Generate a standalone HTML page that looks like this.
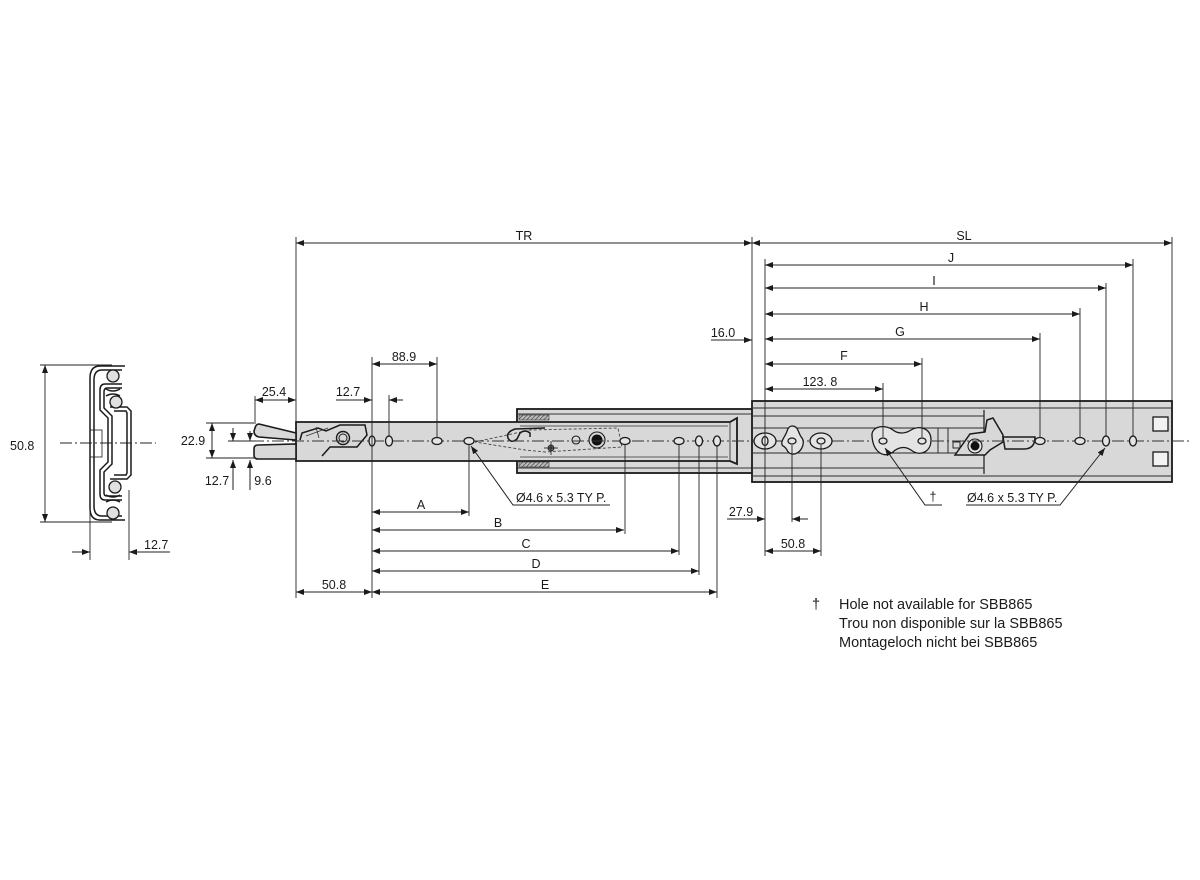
<!DOCTYPE html>
<html><head><meta charset="utf-8"><style>
html,body{margin:0;padding:0;background:#fff;}
svg{display:block;}
text{font-family:"Liberation Sans",sans-serif;fill:#1a1a1a;}
</style></head><body>
<svg width="1200" height="880" viewBox="0 0 1200 880" xmlns="http://www.w3.org/2000/svg">
<defs>
<marker id="ar" viewBox="0 0 8 6" refX="8" refY="3" markerWidth="8" markerHeight="6" orient="auto-start-reverse" markerUnits="userSpaceOnUse"><path d="M0,0 L8,3 L0,6z" fill="#1a1a1a"/></marker>
<pattern id="hat" width="3" height="3" patternUnits="userSpaceOnUse" patternTransform="rotate(45)"><rect width="3" height="3" fill="#bbb"/><line x1="0" y1="0" x2="0" y2="3" stroke="#333" stroke-width="1.2"/></pattern>
</defs>
<rect width="1200" height="880" fill="#fff"/>

<!-- ===== Left profile view ===== -->
<g fill="none" stroke="#1a1a1a" stroke-width="1.5">
  <path d="M125,366 L100,366 Q90,366 90,378 L90,508 Q90,520 100,520 L125,520"/>
  <path d="M122,370 L102,370 Q94,370 94,380 L94,506 Q94,516 102,516 L122,516"/>
  <path d="M122,384 L105,384 Q100,384 100,390 L100,410 L108,418 L108,462 L100,470 L100,494 Q100,500 105,500 L122,500"/>
  <path d="M122,388 L107,388 Q104,388 104,392 L104,408 L112,416 L112,464 L104,472 L104,493 Q104,496 107,496 L122,496"/>
  <path d="M110,407 L127,407 L131,411 L131,475 L127,479 L110,479"/>
  <path d="M114,411 L126,411 L127,413 L127,473 L126,475 L114,475"/>
  <path d="M106,389 Q113,393 120,389 M106,396 Q113,392 120,396"/>
  <path d="M106,495 Q113,499 120,495 M106,502 Q113,498 120,502"/>
  <rect x="90" y="430" width="12" height="27" stroke-width="0.8"/>
</g>
<g fill="#e0e0e0" stroke="#1a1a1a" stroke-width="1.3">
  <circle cx="113" cy="376" r="6"/>
  <circle cx="116" cy="402" r="6"/>
  <circle cx="115" cy="487" r="6"/>
  <circle cx="113" cy="513" r="6"/>
</g>
<g stroke="#222" stroke-width="0.9" fill="none">
  <line x1="40" y1="365" x2="112" y2="365"/>
  <line x1="40" y1="522" x2="112" y2="522"/>
  <line x1="90" y1="508" x2="90" y2="560"/>
  <line x1="129" y1="490" x2="129" y2="560"/>
  <line x1="60" y1="443" x2="156" y2="443" stroke-dasharray="12 3 2 3"/>
  <line x1="45" y1="365" x2="45" y2="522" marker-start="url(#ar)" marker-end="url(#ar)"/>
  <line x1="72" y1="552" x2="90" y2="552" marker-end="url(#ar)"/>
  <line x1="170" y1="552" x2="129" y2="552" marker-end="url(#ar)"/>
</g>
<text x="10" y="450" font-size="12.5">50.8</text>
<text x="144" y="549" font-size="12.5">12.7</text>

<!-- ===== Main slide ===== -->
<rect x="517" y="409" width="236" height="64" fill="#d8d8d8" stroke="#1a1a1a" stroke-width="1.8"/>
<rect x="519" y="415" width="30" height="5" fill="url(#hat)" stroke="#333" stroke-width="0.6"/>
<rect x="519" y="462" width="30" height="5" fill="url(#hat)" stroke="#333" stroke-width="0.6"/>
<line x1="517" y1="414" x2="752" y2="414" stroke="#333" stroke-width="0.9"/>
<line x1="517" y1="468" x2="752" y2="468" stroke="#333" stroke-width="0.9"/>

<rect x="752" y="401" width="420" height="81" fill="#d8d8d8" stroke="#1a1a1a" stroke-width="1.8"/>
<g stroke="#2a2a2a" stroke-width="1" fill="none">
  <line x1="752" y1="408" x2="1172" y2="408"/>
  <line x1="752" y1="476" x2="1172" y2="476"/>
  <line x1="752" y1="416" x2="984" y2="416"/>
  <line x1="752" y1="428" x2="984" y2="428"/>
  <line x1="752" y1="453" x2="984" y2="453"/>
  <line x1="752" y1="468" x2="984" y2="468"/>
  <line x1="984" y1="410" x2="984" y2="474" stroke-width="1.3"/>
  <rect x="1153" y="417" width="15" height="14" stroke="#1a1a1a" stroke-width="1.3" fill="#f2f2f2"/>
  <rect x="1153" y="452" width="15" height="14" stroke="#1a1a1a" stroke-width="1.3" fill="#f2f2f2"/>
  <line x1="938" y1="428" x2="938" y2="453"/>
  <line x1="948" y1="428" x2="948" y2="453"/>
  <rect x="953" y="442" width="7" height="6"/>
</g>

<path d="M296,422 L730,422 L737,418 L737,464 L730,461 L296,461 Z" fill="#d8d8d8" stroke="#1a1a1a" stroke-width="1.8"/>
<line x1="520" y1="426" x2="728" y2="426" stroke="#333" stroke-width="0.8"/>
<line x1="520" y1="457" x2="728" y2="457" stroke="#333" stroke-width="0.8"/>
<line x1="730" y1="422" x2="730" y2="461" stroke="#333" stroke-width="0.9"/>

<path d="M259,424 L296,433 L296,440 L259,437 Q254,436 254,431 L255,428 Q256,424 259,424 Z" fill="#d8d8d8" stroke="#1a1a1a" stroke-width="1.6"/>
<path d="M258,445 L296,444 L296,459 L258,459 Q254,459 254,455 L254,449 Q254,445 258,445 Z" fill="#d8d8d8" stroke="#1a1a1a" stroke-width="1.6"/>

<path d="M300,440 L302,433 L318,428 L326,431 L340,425 L365,425 L367,435 L357,447 L330,447 L322,456" fill="none" stroke="#1a1a1a" stroke-width="1.5"/>
<line x1="306" y1="436" x2="328" y2="428" stroke="#333" stroke-width="0.8"/>
<line x1="316" y1="427" x2="319" y2="438" stroke="#333" stroke-width="0.8"/>
<circle cx="343" cy="438" r="6.5" fill="none" stroke="#1a1a1a" stroke-width="1.4"/>
<circle cx="343" cy="438" r="4" fill="none" stroke="#1a1a1a" stroke-width="1"/>

<path d="M475,442 L530,430 L618,428 L622,447 L545,452 L525,450 Z" fill="none" stroke="#444" stroke-width="0.9" stroke-dasharray="3 2"/>
<path d="M545,428 L515,429 Q506,432 508,438 Q511,444 517,439 L520,433 Q525,429 530,433 L530,437" fill="none" stroke="#1a1a1a" stroke-width="1.5"/>
<circle cx="551" cy="448" r="3" fill="#666" stroke="#1a1a1a" stroke-width="0.8"/>
<line x1="551" y1="441" x2="551" y2="455" stroke="#1a1a1a" stroke-width="0.8"/>
<line x1="544" y1="448" x2="558" y2="448" stroke="#1a1a1a" stroke-width="0.8"/>
<circle cx="576" cy="440" r="4" fill="none" stroke="#1a1a1a" stroke-width="1.1"/>
<circle cx="597" cy="440" r="8" fill="none" stroke="#1a1a1a" stroke-width="1.1"/>
<circle cx="597" cy="440" r="5.5" fill="#111"/>

<path d="M955,455 L970,434 L985,432 L987,420 L993,418 L1003,435 L1003,442 L990,450 L985,455 Z" fill="#d8d8d8" stroke="#1a1a1a" stroke-width="1.5"/>
<circle cx="975" cy="446" r="7" fill="#e6e6e6" stroke="#1a1a1a" stroke-width="1.1"/>
<circle cx="975" cy="446" r="4.5" fill="#111"/>
<path d="M1003,437 L1035,437 Q1035,449 1024,449 L1005,449 Z" fill="#d8d8d8" stroke="#1a1a1a" stroke-width="1.5"/>

<line x1="232" y1="441" x2="1192" y2="441" stroke="#333" stroke-width="0.9" stroke-dasharray="12 3 2 3"/>

<g fill="#e4e4e4" stroke="#1a1a1a" stroke-width="1.3">
  <ellipse cx="372" cy="441" rx="3" ry="5"/>
  <ellipse cx="389" cy="441" rx="3.5" ry="5"/>
  <ellipse cx="437" cy="441" rx="5" ry="3.5"/>
  <ellipse cx="469" cy="441" rx="5" ry="3.5"/>
  <ellipse cx="625" cy="441" rx="5" ry="3.5"/>
  <ellipse cx="679" cy="441" rx="5" ry="3.5"/>
  <ellipse cx="699" cy="441" rx="3.5" ry="5"/>
  <ellipse cx="717" cy="441" rx="3.5" ry="5"/>
  <ellipse cx="765" cy="441" rx="11" ry="8"/>
  <ellipse cx="765" cy="441" rx="3" ry="4.5"/>
  <path d="M792,426 C799,426 798,434 802,438 C806,444 800,455 792,454 C786,453 788,448 783,446 C779,442 786,436 787,431 C788,428 790,426 792,426 Z"/>
  <ellipse cx="792" cy="441" rx="4" ry="3"/>
  <ellipse cx="821" cy="441" rx="11" ry="8"/>
  <ellipse cx="821" cy="441" rx="4" ry="3"/>
  <path d="M872,436 C871,426 885,424 893,430 C898,434 905,434 911,430 C919,425 931,428 931,440 C931,452 920,457 911,450 C905,446 898,447 893,452 C884,459 873,452 872,436 Z"/>
  <ellipse cx="883" cy="441" rx="4" ry="3"/>
  <ellipse cx="922" cy="441" rx="4" ry="3"/>
  <ellipse cx="1040" cy="441" rx="5" ry="3.5"/>
  <ellipse cx="1080" cy="441" rx="5" ry="3.5"/>
  <ellipse cx="1106" cy="441" rx="3.5" ry="5"/>
  <ellipse cx="1133" cy="441" rx="3.5" ry="5"/>
</g>

<g stroke="#222" stroke-width="0.9" fill="none">
  <line x1="296" y1="237" x2="296" y2="598"/>
  <line x1="372" y1="357" x2="372" y2="598"/>
  <line x1="389" y1="395" x2="389" y2="437"/>
  <line x1="437" y1="357" x2="437" y2="437"/>
  <line x1="469" y1="445" x2="469" y2="516"/>
  <line x1="625" y1="445" x2="625" y2="534"/>
  <line x1="679" y1="445" x2="679" y2="555"/>
  <line x1="699" y1="445" x2="699" y2="575"/>
  <line x1="717" y1="445" x2="717" y2="598"/>
  <line x1="752" y1="237" x2="752" y2="400"/>
  <line x1="765" y1="259" x2="765" y2="556"/>
  <line x1="792" y1="445" x2="792" y2="522"/>
  <line x1="821" y1="445" x2="821" y2="556"/>
  <line x1="883" y1="383" x2="883" y2="437"/>
  <line x1="922" y1="358" x2="922" y2="437"/>
  <line x1="1040" y1="333" x2="1040" y2="437"/>
  <line x1="1080" y1="308" x2="1080" y2="437"/>
  <line x1="1106" y1="283" x2="1106" y2="437"/>
  <line x1="1133" y1="259" x2="1133" y2="437"/>
  <line x1="1172" y1="237" x2="1172" y2="401"/>
  <line x1="255" y1="396" x2="255" y2="424"/>
  <line x1="206" y1="423" x2="254" y2="423"/>
  <line x1="206" y1="458" x2="254" y2="458"/>
  <line x1="228" y1="441" x2="256" y2="441"/>
</g>

<g stroke="#222" stroke-width="1" fill="none">
  <line x1="296" y1="243" x2="752" y2="243" marker-start="url(#ar)" marker-end="url(#ar)"/>
  <line x1="752" y1="243" x2="1172" y2="243" marker-start="url(#ar)" marker-end="url(#ar)"/>
  <line x1="765" y1="265" x2="1133" y2="265" marker-start="url(#ar)" marker-end="url(#ar)"/>
  <line x1="765" y1="288" x2="1106" y2="288" marker-start="url(#ar)" marker-end="url(#ar)"/>
  <line x1="765" y1="314" x2="1080" y2="314" marker-start="url(#ar)" marker-end="url(#ar)"/>
  <line x1="765" y1="339" x2="1040" y2="339" marker-start="url(#ar)" marker-end="url(#ar)"/>
  <line x1="765" y1="364" x2="922" y2="364" marker-start="url(#ar)" marker-end="url(#ar)"/>
  <line x1="765" y1="389" x2="883" y2="389" marker-start="url(#ar)" marker-end="url(#ar)"/>
  <line x1="711" y1="340" x2="752" y2="340" marker-end="url(#ar)"/>
  <line x1="372" y1="364" x2="437" y2="364" marker-start="url(#ar)" marker-end="url(#ar)"/>
  <line x1="255" y1="400" x2="296" y2="400" marker-start="url(#ar)" marker-end="url(#ar)"/>
  <line x1="336" y1="400" x2="372" y2="400" marker-end="url(#ar)"/>
  <line x1="403" y1="400" x2="389" y2="400" marker-end="url(#ar)"/>
  <line x1="212" y1="423" x2="212" y2="458" marker-start="url(#ar)" marker-end="url(#ar)"/>
  <line x1="233" y1="428" x2="233" y2="441" marker-end="url(#ar)"/>
  <line x1="250" y1="431" x2="250" y2="441" marker-end="url(#ar)"/>
  <line x1="233" y1="490" x2="233" y2="460" marker-end="url(#ar)"/>
  <line x1="250" y1="490" x2="250" y2="460" marker-end="url(#ar)"/>
  <line x1="372" y1="512" x2="469" y2="512" marker-start="url(#ar)" marker-end="url(#ar)"/>
  <line x1="372" y1="530" x2="624" y2="530" marker-start="url(#ar)" marker-end="url(#ar)"/>
  <line x1="372" y1="551" x2="679" y2="551" marker-start="url(#ar)" marker-end="url(#ar)"/>
  <line x1="372" y1="571" x2="699" y2="571" marker-start="url(#ar)" marker-end="url(#ar)"/>
  <line x1="372" y1="592" x2="717" y2="592" marker-start="url(#ar)" marker-end="url(#ar)"/>
  <line x1="296" y1="592" x2="372" y2="592" marker-start="url(#ar)" marker-end="url(#ar)"/>
  <line x1="727" y1="519" x2="765" y2="519" marker-end="url(#ar)"/>
  <line x1="808" y1="519" x2="792" y2="519" marker-end="url(#ar)"/>
  <line x1="765" y1="551" x2="821" y2="551" marker-start="url(#ar)" marker-end="url(#ar)"/>
  <polyline points="471,446 513,505 610,505" marker-start="url(#ar)"/>
  <polyline points="1105,448 1060,505 966,505" marker-start="url(#ar)"/>
  <polyline points="885,448 925,505 942,505" marker-start="url(#ar)"/>
</g>

<g font-size="12.5">
  <text x="524" y="240" text-anchor="middle">TR</text>
  <text x="964" y="240" text-anchor="middle">SL</text>
  <text x="951" y="262" text-anchor="middle">J</text>
  <text x="934" y="285" text-anchor="middle">I</text>
  <text x="924" y="311" text-anchor="middle">H</text>
  <text x="900" y="336" text-anchor="middle">G</text>
  <text x="844" y="360" text-anchor="middle">F</text>
  <text x="820" y="386" text-anchor="middle">123. 8</text>
  <text x="723" y="337" text-anchor="middle">16.0</text>
  <text x="404" y="361" text-anchor="middle">88.9</text>
  <text x="274" y="396" text-anchor="middle">25.4</text>
  <text x="348" y="396" text-anchor="middle">12.7</text>
  <text x="193" y="445" text-anchor="middle">22.9</text>
  <text x="217" y="485" text-anchor="middle">12.7</text>
  <text x="263" y="485" text-anchor="middle">9.6</text>
  <text x="421" y="509" text-anchor="middle">A</text>
  <text x="498" y="527" text-anchor="middle">B</text>
  <text x="526" y="548" text-anchor="middle">C</text>
  <text x="536" y="568" text-anchor="middle">D</text>
  <text x="545" y="589" text-anchor="middle">E</text>
  <text x="334" y="589" text-anchor="middle">50.8</text>
  <text x="741" y="516" text-anchor="middle">27.9</text>
  <text x="793" y="548" text-anchor="middle">50.8</text>
  <text x="933" y="501" text-anchor="middle">†</text>
  <text x="516" y="502">Ø4.6 x 5.3 TY  P.</text>
  <text x="967" y="502">Ø4.6 x 5.3 TY  P.</text>
</g>

<g font-size="14.5">
  <text x="812" y="609">†</text>
  <text x="839" y="609">Hole not available for SBB865</text>
  <text x="839" y="628">Trou non disponible sur la SBB865</text>
  <text x="839" y="647">Montageloch nicht bei SBB865</text>
</g>
</svg>
</body></html>
